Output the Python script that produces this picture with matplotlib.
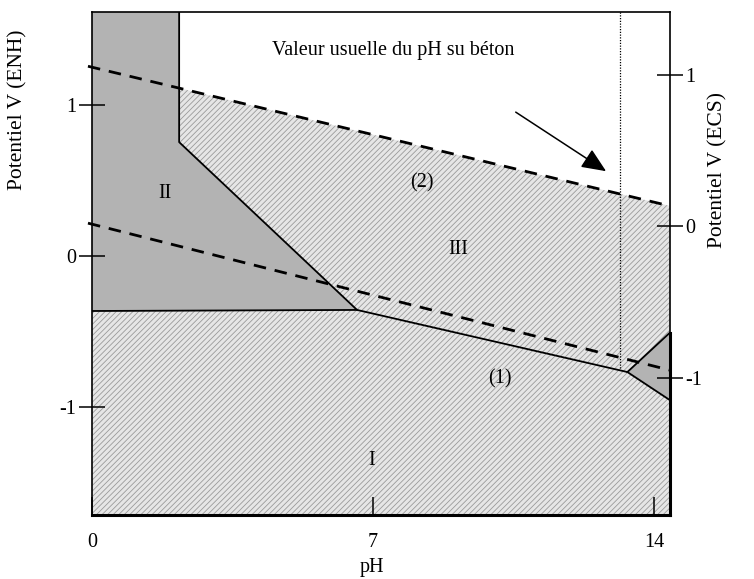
import numpy as np
import matplotlib
matplotlib.use('Agg')
import matplotlib.pyplot as plt
from matplotlib.patches import Polygon

plt.rcParams['font.family'] = ['Liberation Serif', 'DejaVu Serif']
plt.rcParams['hatch.linewidth'] = 0.6

# domain vertices (pH, E in V/ENH)
ph_min, ph_max = 0.0, 14.38
e_min, e_max = -1.71, 1.61
ph_wall = 2.17          # vertical boundary of domain II
e_wall = 0.752
junc1 = (6.60, -0.356)  # II / III / I point
junc2 = (13.33, -0.766) # III / I / triangle point
tri_top = -0.508
tri_bot = -0.95
e_flat = -0.363         # horizontal boundary II / I

# water lines (1) and (2)
line1_ph = [-0.1, 14.38]
line1_e = [0.217, -0.753]
line2_ph = [-0.1, 14.38]
line2_e = [1.253, 0.331]

ph_beton = 13.15
ecs_offset = 0.195

# labels: (text, pH, E)
labels = [('II', 1.82, 0.41), ('III', 9.12, 0.04), ('I', 6.95, -1.35),
          ('(2)', 8.22, 0.48), ('(1)', 10.15, -0.81)]

fig = plt.figure(figsize=(7.54, 5.79), dpi=100)
ax = fig.add_axes([0.122, 0.1105, 0.766, 0.8685])
ax.set_xlim(ph_min, ph_max)
ax.set_ylim(e_min, e_max)

def e_on_line2(ph):
    return np.interp(ph, line2_ph, line2_e)

hatch_face = '#e6e6e6'
hatch_col = '#9a9a9a'
dark = '#b3b3b3'
fs = 14.5

# domain I
dom1 = [(ph_min, e_flat), junc1, junc2, (ph_max, tri_bot), (ph_max, e_min), (ph_min, e_min)]
ax.add_patch(Polygon(dom1, closed=True, facecolor=hatch_face, edgecolor=hatch_col,
                     hatch='//////', linewidth=0))
# domain III
dom3 = [(ph_wall, e_on_line2(ph_wall)), (ph_wall, e_wall), junc1, junc2,
        (ph_max, tri_top), (ph_max, e_on_line2(ph_max))]
ax.add_patch(Polygon(dom3, closed=True, facecolor=hatch_face, edgecolor=hatch_col,
                     hatch='//////', linewidth=0))
# domain II
dom2 = [(ph_min, e_max), (ph_wall, e_max), (ph_wall, e_wall), junc1, (ph_min, e_flat)]
ax.add_patch(Polygon(dom2, closed=True, facecolor=dark, edgecolor='none'))
# small triangle
tri = [junc2, (ph_max, tri_top), (ph_max, tri_bot)]
ax.add_patch(Polygon(tri, closed=True, facecolor=dark, edgecolor='none'))

# boundaries
lw = 1.3
ax.plot([ph_wall, ph_wall, junc1[0]], [e_max, e_wall, junc1[1]], color='black', lw=lw)
ax.plot([ph_min, junc1[0], junc2[0], ph_max], [e_flat, junc1[1], junc2[1], tri_top], color='black', lw=lw)
ax.plot([junc2[0], ph_max], [junc2[1], tri_bot], color='black', lw=lw)
ax.plot([ph_max, ph_max], [tri_top, e_min], color='black', lw=2.2, clip_on=False)

# water lines
ax.plot(line1_ph, line1_e, color='black', lw=2.0, dashes=(4.5, 3.2), clip_on=False)
ax.plot(line2_ph, line2_e, color='black', lw=2.0, dashes=(4.5, 3.2), clip_on=False)

# usual pH of concrete
e_stop = np.interp(ph_beton, [junc1[0], junc2[0]], [junc1[1], junc2[1]])
ax.plot([ph_beton, ph_beton], [e_max, e_stop], color='black', lw=0.9, ls=(0, (1, 1.2)))
ax.annotate('', xy=(12.8, 0.56), xytext=(10.55, 0.95),
            arrowprops=dict(arrowstyle='-|>,head_length=1.5,head_width=0.65',
                            color='black', lw=1.1, shrinkA=0, shrinkB=0))
ax.text(4.48, 1.36, 'Valeur usuelle du pH su béton', fontsize=fs, ha='left', va='center')

for txt, px, py in labels:
    ax.text(px, py, txt, fontsize=fs, ha='center', va='center')

# axes look
for side in ['top', 'left', 'right']:
    ax.spines[side].set_linewidth(1.2)
ax.spines['bottom'].set_linewidth(2.2)

ax.set_xticks([0, 7, 14])
ax.set_xticklabels(['0', '7', '14'])
ax.tick_params(axis='x', direction='in', length=13, width=1.1, labelsize=fs, pad=13)
ax.set_xticks([7, 14], minor=True)
ax.tick_params(axis='x', which='minor', direction='out', length=6, width=1.1)
ax.set_yticks([-1, 0, 1])
ax.set_yticklabels(['-1', '0', '1'])
ax.tick_params(axis='y', direction='inout', length=19, width=1.1, labelsize=fs, pad=2)

ax2 = ax.twinx()
ax2.set_ylim(e_min - ecs_offset, e_max - ecs_offset)
ax2.set_yticks([-1, 0, 1])
ax2.set_yticklabels(['-1', '0', '1'])
ax2.tick_params(axis='y', direction='inout', length=19, width=1.1, labelsize=fs, pad=2)
for s in ax2.spines.values():
    s.set_visible(False)

fig.text(0.493, 0.003, 'pH', fontsize=fs, ha='center', va='bottom')
fig.text(0.024, 0.81, 'Potentiel V (ENH)', rotation=90, fontsize=15.5, ha='center', va='center')
fig.text(0.952, 0.706, 'Potentiel V (ECS)', rotation=90, fontsize=15.5, ha='center', va='center')

fig.savefig('out.png', dpi=100)
